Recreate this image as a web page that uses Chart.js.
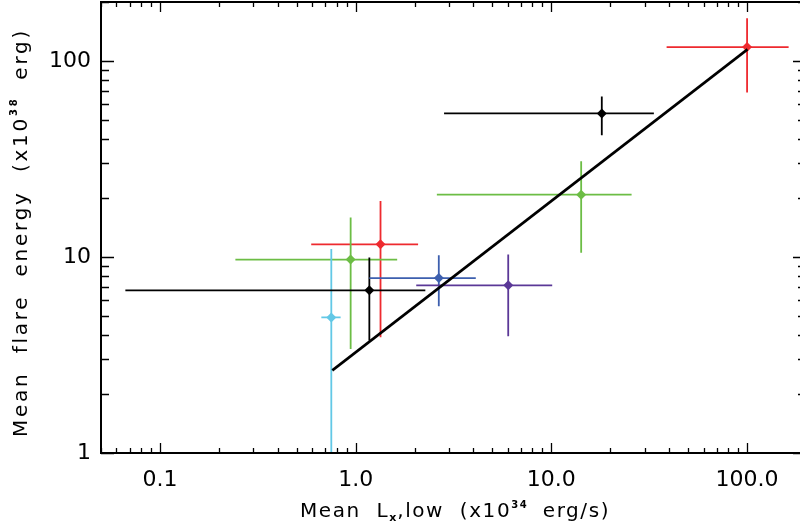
<!DOCTYPE html>
<html>
<head>
<meta charset="utf-8">
<script src="https://cdn.jsdelivr.net/npm/chart.js@4.4.0/dist/chart.umd.min.js"></script>
<style>
  html, body { margin: 0; padding: 0; background: #fff; overflow: hidden; width: 800px; height: 532px; }
  #wrap { width: 812px; height: 535px; position: relative; margin-top: -3px; }
</style>
</head>
<body>
<div id="wrap"><canvas id="c" width="812" height="535"></canvas></div>
<script>
// ---- Data ----
const xVal = [100, 18.1, 14.2, 1.34, 0.943, 0.751, 1.175, 2.66, 6.02];
const xLo  = [38.8, 2.83, 2.6, 0.593, 0.243, 0.668, 0.0666, 1.175, 2.04];
const xHi  = [163, 33.4, 25.7, 2.085, 1.63, 0.838, 2.27, 4.11, 10.1];
const yVal = [117.8, 54.0, 20.8, 11.6, 9.70, 4.92, 6.76, 7.81, 7.17];
const yLo  = [69.1, 41.8, 10.5, 3.89, 3.39, 0.5, 3.75, 5.6, 3.94];
const yHi  = [165, 65.9, 30.8, 19.3, 15.9, 11.0, 9.93, 10.2, 10.3];
const pointColors = ['#ee2a2f', '#000000', '#6cbd45', '#ee2a2f', '#6cbd45', '#62c8e6', '#000000', '#3d5fae', '#5b3897'];

const fitX = [0.76, 100.5];
const fitY = [2.64, 114.6];

const xTickVals = [0.1, 1, 10, 100];
const xTickLabels = ['0.1', '1.0', '10.0', '100.0'];
const yTickVals = [1, 10, 100];
const yTickLabels = ['1', '10', '100'];

const X_MIN = 0.05, X_MAX = 200, Y_MIN = 1, Y_MAX = 200;
const FONT = "'DejaVu Sans', sans-serif";
const SHIFT = 3; // canvas is shifted up by this many px

function minorTicks(min, max) {
  const out = [];
  for (let d = Math.floor(Math.log10(min)); d <= Math.ceil(Math.log10(max)); d++) {
    for (let m = 1; m <= 9; m++) {
      const v = m * Math.pow(10, d);
      if (v >= min * 0.999 && v <= max * 1.001) out.push({ v, major: m === 1 });
    }
  }
  return out;
}

// draws a run of text parts [text, size, dy]; stretched by letter spacing to a target width
function drawParts(ctx, parts, cx, baseY, targetW) {
  const chars = parts.reduce((n, p) => n + p[0].length, 0);
  ctx.letterSpacing = '0px';
  let natural = 0;
  parts.forEach(p => { ctx.font = `${p[1]}px ${FONT}`; natural += ctx.measureText(p[0]).width; });
  const ls = Math.max(0, (targetW - natural) / chars);
  ctx.letterSpacing = ls + 'px';
  let x = cx - targetW / 2;
  parts.forEach(p => {
    ctx.font = (p[1] < 13 ? 'bold ' : '') + `${p[1]}px ${FONT}`;
    ctx.fillText(p[0], x, baseY + p[2]);
    ctx.font = `${p[1]}px ${FONT}`;
    x += ctx.measureText(p[0]).width;
  });
  ctx.letterSpacing = '0px';
}

const axesPlugin = {
  id: 'axesPlugin',
  beforeDatasetsDraw(chart) {
    const ctx = chart.ctx, a = chart.chartArea;
    const xs = chart.scales.x, ys = chart.scales.y;
    ctx.save();
    ctx.beginPath();
    ctx.rect(a.left, a.top, a.right - a.left, a.bottom - a.top);
    ctx.clip();
    ctx.lineWidth = 1.8;
    for (let i = 0; i < xVal.length; i++) {
      ctx.strokeStyle = pointColors[i];
      const px = xs.getPixelForValue(xVal[i]), py = ys.getPixelForValue(yVal[i]);
      ctx.beginPath();
      ctx.moveTo(xs.getPixelForValue(xLo[i]), py);
      ctx.lineTo(xs.getPixelForValue(xHi[i]), py);
      ctx.moveTo(px, ys.getPixelForValue(yLo[i]));
      ctx.lineTo(px, ys.getPixelForValue(yHi[i]));
      ctx.stroke();
    }
    ctx.restore();
  },
  afterDraw(chart) {
    const ctx = chart.ctx, a = chart.chartArea;
    const xs = chart.scales.x, ys = chart.scales.y;
    ctx.save();
    ctx.strokeStyle = '#000';
    ctx.lineWidth = 2;
    ctx.strokeRect(a.left, a.top, a.right - a.left, a.bottom - a.top);
    ctx.lineWidth = 1.3;
    ctx.beginPath();
    minorTicks(X_MIN, X_MAX).forEach(t => {
      const p = Math.round(xs.getPixelForValue(t.v)) + 0.5;
      ctx.moveTo(p, a.bottom); ctx.lineTo(p, a.bottom - (t.major ? 10 : 5));
      ctx.moveTo(p, a.top); ctx.lineTo(p, a.top + (t.major ? 10 : 5));
    });
    minorTicks(Y_MIN, Y_MAX).forEach(t => {
      const p = Math.round(ys.getPixelForValue(t.v)) + 0.5;
      ctx.moveTo(a.left, p); ctx.lineTo(a.left + (t.major ? 13 : 8), p);
      ctx.moveTo(a.right, p); ctx.lineTo(a.right - (t.major ? 13 : 8), p);
    });
    ctx.stroke();

    ctx.fillStyle = '#000';
    ctx.textBaseline = 'alphabetic';
    drawParts(ctx, [['Mean  L', 20, 0], ['x', 11, 4], [',low  (x10', 20, 0], ['34', 10, -9], ['  erg/s)', 20, 0]], 455, 517 + SHIFT, 310);
    ctx.save();
    ctx.translate(27, 232.5 + SHIFT);
    ctx.rotate(-Math.PI / 2);
    drawParts(ctx, [['Mean  flare  energy  (x10', 20, 0], ['38', 10, -10], ['  erg)', 20, 0]], 0, 0, 409);
    ctx.restore();
    ctx.restore();
  }
};

new Chart(document.getElementById('c'), {
  data: {
    datasets: [
      {
        type: 'line',
        data: fitX.map((x, i) => ({ x, y: fitY[i] })),
        borderColor: '#000',
        borderWidth: 2.6,
        pointRadius: 0,
        fill: false,
        order: 0
      },
      {
        type: 'scatter',
        data: xVal.map((x, i) => ({ x, y: yVal[i] })),
        pointStyle: 'rectRot',
        pointRadius: 5,
        backgroundColor: pointColors,
        borderColor: pointColors,
        borderWidth: 0,
        order: 1
      }
    ]
  },
  options: {
    responsive: false,
    animation: false,
    events: [],
    layout: { padding: { top: 0, right: 6, left: 0, bottom: 0 } },
    plugins: { legend: { display: false }, tooltip: { enabled: false }, title: { display: false } },
    scales: {
      x: {
        type: 'logarithmic',
        min: X_MIN, max: X_MAX,
        grid: { display: false, drawTicks: false },
        border: { display: false },
        afterBuildTicks: s => { s.ticks = xTickVals.map(v => ({ value: v })); },
        afterFit: s => { s.height = 79; s.paddingLeft = 0; s.paddingRight = 0; },
        ticks: {
          autoSkip: false, maxRotation: 0,
          padding: 14,
          color: '#000',
          font: { family: FONT, size: 22 },
          callback: (v, i) => xTickLabels[i]
        }
      },
      y: {
        type: 'logarithmic',
        min: Y_MIN, max: Y_MAX,
        grid: { display: false, drawTicks: false },
        border: { display: false },
        afterBuildTicks: s => { s.ticks = yTickVals.map(v => ({ value: v })); },
        afterFit: s => { s.width = 101; s.paddingTop = 0; s.paddingBottom = 0; },
        ticks: {
          autoSkip: false,
          padding: 10,
          color: '#000',
          font: { family: FONT, size: 22 },
          callback: (v, i) => yTickLabels[i]
        }
      }
    }
  },
  plugins: [axesPlugin]
});
</script>
</body>
</html>
